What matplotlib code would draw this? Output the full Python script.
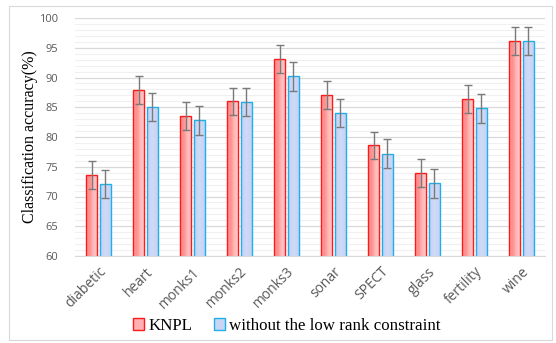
import matplotlib
matplotlib.use("Agg")
import matplotlib.pyplot as plt
import numpy as np
from matplotlib.patches import Rectangle, Patch
from matplotlib.colors import LinearSegmentedColormap

categories = ["diabetic", "heart", "monks1", "monks2", "monks3", "sonar", "SPECT", "glass", "fertility", "wine"]
knpl = [73.6, 87.9, 83.5, 86.0, 93.1, 87.1, 78.6, 73.9, 86.4, 96.1]
knpl_err = [2.35, 2.3, 2.3, 2.3, 2.3, 2.35, 2.3, 2.35, 2.3, 2.35]
nolr = [72.1, 85.1, 82.8, 85.9, 90.2, 84.0, 77.2, 72.2, 84.8, 96.1]
nolr_err = [2.4, 2.35, 2.4, 2.35, 2.4, 2.4, 2.4, 2.4, 2.4, 2.35]
series_names = ["KNPL", "without the low rank constraint"]

fig = plt.figure(figsize=(5.56, 3.43), dpi=100)
W, H = 556, 343
ax = fig.add_axes([75 / W, (H - 256) / H, (545 - 75) / W, (256 - 18) / H])

# outer frame
fig.patches.append(Rectangle((9 / W, 3 / H), (552 - 9) / W, (337 - 3) / H,
                             transform=fig.transFigure, fill=False,
                             edgecolor="#d9d9d9", linewidth=0.8))

x = np.arange(len(categories))
bw = 0.23
off = 0.145

red_cmap = LinearSegmentedColormap.from_list("r", ["#ff9a9a", "#ff8c8c", "#ffb8b8", "#ffcaca"])
blue_cmap = LinearSegmentedColormap.from_list("b", ["#c4d0f4", "#cfdaf7", "#c6d2f4"])
grad = np.linspace(0, 1, 64).reshape(1, -1)

b1 = ax.bar(x - off, knpl, bw, bottom=0, color="none", edgecolor="#ff1a1a", linewidth=1.0, zorder=3)
b2 = ax.bar(x + off, nolr, bw, bottom=0, color="none", edgecolor="#1fb0ea", linewidth=1.0, zorder=3)

ax.set_ylim(60, 100)
ax.set_xlim(-0.5, len(categories) - 0.5)

for bars, cmap in ((b1, red_cmap), (b2, blue_cmap)):
    for r in bars:
        x0 = r.get_x()
        im = ax.imshow(grad, cmap=cmap, aspect="auto",
                       extent=(x0, x0 + r.get_width(), 60, r.get_height()),
                       zorder=2, interpolation="bilinear")
        im.set_clip_path(r)

ax.errorbar(x - off, knpl, yerr=knpl_err, fmt="none", ecolor="#7a7a7a", elinewidth=1.0, capsize=3, capthick=1.0, zorder=4)
ax.errorbar(x + off, nolr, yerr=nolr_err, fmt="none", ecolor="#7a7a7a", elinewidth=1.0, capsize=3, capthick=1.0, zorder=4)

ax.set_xlim(-0.5, len(categories) - 0.5)
ax.set_ylim(60, 100)
ax.set_yticks(np.arange(60, 101, 5))
ax.set_yticks(np.arange(60, 101, 1), minor=True)
ax.grid(True, which="major", axis="y", color="#d9d9d9", linewidth=0.9, zorder=0)
ax.grid(True, which="minor", axis="y", color="#f0f0f0", linewidth=0.8, zorder=0)
ax.set_axisbelow(True)
for s in ["top", "right", "left"]:
    ax.spines[s].set_visible(False)
ax.spines["bottom"].set_color("#d9d9d9")
ax.tick_params(axis="y", which="both", length=0, colors="#595959", labelsize=8, pad=12)
ax.tick_params(axis="x", length=0, colors="#595959", labelsize=10, pad=6)
ax.set_xticks(x)
ax.set_xticklabels(categories, rotation=45, ha="right", rotation_mode="anchor")
for t in ax.get_xticklabels() + ax.get_yticklabels():
    t.set_fontfamily("Open Sans")

ax.set_ylabel("Classification accuracy(%)", fontfamily="Liberation Serif", fontsize=11.5, labelpad=0)
ax.yaxis.set_label_coords(-37 / 470, 0.5)

h1 = Patch(facecolor="#ffb0b0", edgecolor="#ff1a1a", linewidth=1.0)
h2 = Patch(facecolor="#c9d5f5", edgecolor="#1fb0ea", linewidth=1.0)
fig.legend([h1, h2], series_names, loc="center", bbox_to_anchor=(287 / W, 1 - 326 / H),
           ncol=2, frameon=False, prop={"family": "Liberation Serif", "size": 12.2},
           handlelength=0.65, handleheight=0.65, handletextpad=0.25, columnspacing=1.25)

fig.savefig("out.png", dpi=100)
